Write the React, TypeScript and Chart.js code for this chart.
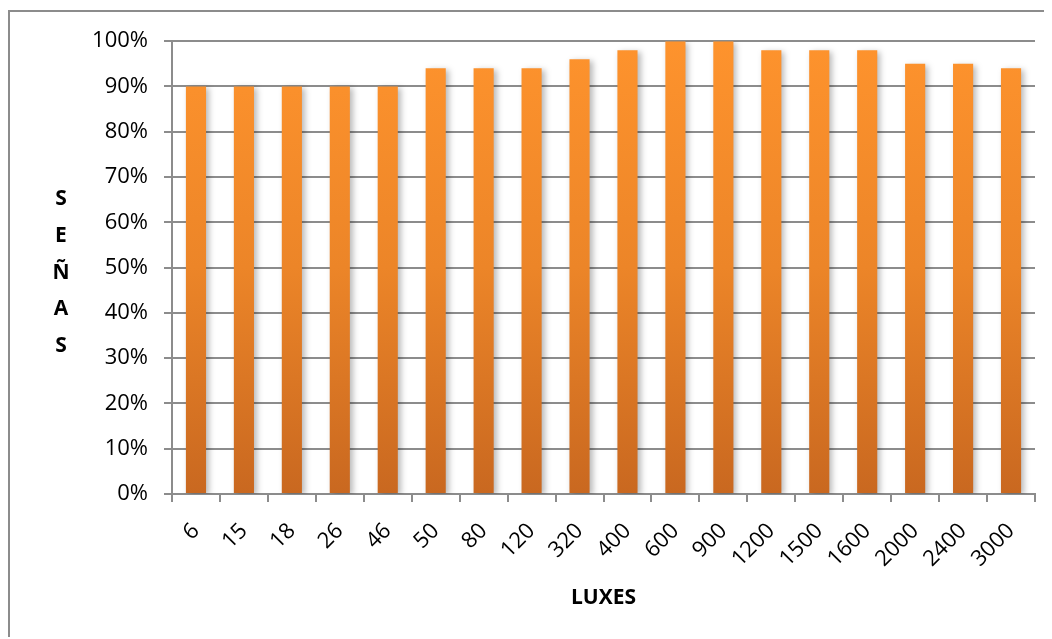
import React, { useEffect, useRef } from "react";
import { Chart, registerables } from "chart.js";

Chart.register(...registerables);

const categories: string[] = ["6", "15", "18", "26", "46", "50", "80", "120", "320", "400", "600", "900", "1200", "1500", "1600", "2000", "2400", "3000"];
const values: number[] = [90, 90, 90, 90, 90, 94, 94, 94, 96, 98, 100, 100, 98, 98, 98, 95, 95, 94];
const yTitleLetters: string[] = ["S", "E", "Ñ", "A", "S"];
const xTitle = "LUXES";

const FONT = "'Open Sans', 'Noto Sans', sans-serif";

export default function App() {
  const ref = useRef<HTMLCanvasElement | null>(null);

  useEffect(() => {
    if (!ref.current) return;
    const shadowPlugin = {
      id: "barShadow",
      beforeDatasetsDraw(chart: any) {
        const c = chart.ctx;
        c.save();
        c.shadowColor = "rgba(0,0,0,0.28)";
        c.shadowBlur = 6;
        c.shadowOffsetX = 3;
        c.shadowOffsetY = 2;
      },
      afterDatasetsDraw(chart: any) {
        chart.ctx.restore();
      },
    };
    const titlesPlugin = {
      id: "titles",
      afterDraw(chart: any) {
        const c = chart.ctx;
        const area = chart.chartArea;
        c.save();
        c.fillStyle = "#000";
        c.font = `bold 21px ${FONT}`;
        c.textAlign = "center";
        c.textBaseline = "middle";
        c.fillText(xTitle, (area.left + area.right) / 2, 586);
        const mid = (area.top + area.bottom) / 2 + 5;
        const step = 36.6;
        yTitleLetters.forEach((l, i) => {
          c.fillText(l, 51, mid + (i - (yTitleLetters.length - 1) / 2) * step);
        });
        c.restore();
      },
    };
    const chart = new Chart(ref.current, {
      type: "bar",
      data: {
        labels: categories,
        datasets: [
          {
            data: values,
            backgroundColor: (ctx: any) => {
              const area = ctx.chart.chartArea;
              if (!area) return "#F7902A";
              const g = ctx.chart.ctx.createLinearGradient(0, area.top, 0, area.bottom);
              g.addColorStop(0, "#FE932D");
              g.addColorStop(0.5, "#EC8528");
              g.addColorStop(1, "#C96820");
              return g;
            },
            borderWidth: 0,
            barPercentage: 0.42,
            categoryPercentage: 1,
          },
        ],
      },
      options: {
        animation: false,
        responsive: false,
        layout: { padding: { top: 27, right: 15, left: 0, bottom: 0 } },
        plugins: { legend: { display: false }, tooltip: { enabled: false } },
        scales: {
          x: {
            offset: true,
            grid: {
              offset: true,
              drawOnChartArea: false,
              drawTicks: true,
              tickLength: 8,
              color: "#8c8c8c",
              lineWidth: 2,
            },
            border: { color: "#8c8c8c", width: 2 },
            ticks: {
              color: "#000",
              font: { family: FONT, size: 22 },
              maxRotation: 45,
              minRotation: 45,
              padding: 16,
              autoSkip: false,
            },
            afterFit: (s: any) => {
              s.height = 138;
            },
          },
          y: {
            min: 0,
            max: 100,
            grid: {
              color: "#8c8c8c",
              lineWidth: 2,
              tickLength: 8,
            },
            border: { color: "#8c8c8c", width: 2 },
            ticks: {
              stepSize: 10,
              color: "#000",
              font: { family: FONT, size: 22 },
              padding: 16,
              callback: (v: any) => `${v}%`,
            },
            afterFit: (s: any) => {
              s.width = 162;
            },
          },
        },
      },
      plugins: [shadowPlugin, titlesPlugin],
    });
    return () => chart.destroy();
  }, []);

  return (
    <div style={{ width: 1044, height: 629, overflow: "hidden" }}>
      <div
        style={{
          marginTop: 2,
          width: 1100,
          height: 700,
          border: "2px solid #8c8c8c",
          boxSizing: "border-box",
        }}
      >
        <canvas ref={ref} width={1040} height={620} style={{ display: "block" }} />
      </div>
    </div>
  );
}
